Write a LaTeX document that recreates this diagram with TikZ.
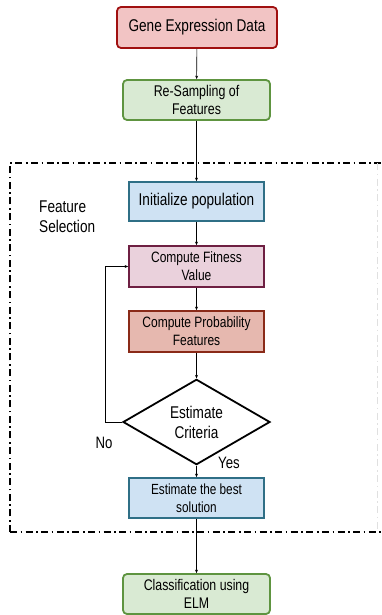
\documentclass[tikz,border=0pt]{standalone}
\usepackage{fontspec}
% Narrow sans face for all labels
\setmainfont[FakeStretch=0.8]{Liberation Sans}
\usetikzlibrary{arrows.meta,shapes.geometric}

\definecolor{redline}{HTML}{A01010}
\definecolor{redfill}{HTML}{F2C4C4}
\definecolor{greenline}{HTML}{5E9440}
\definecolor{greenfill}{HTML}{D9EAD3}
\definecolor{blueline}{HTML}{2F6F86}
\definecolor{bluefill}{HTML}{CFE2F3}
\definecolor{plumline}{HTML}{6E1F42}
\definecolor{plumfill}{HTML}{EAD1DC}
\definecolor{rustline}{HTML}{8A2A18}
\definecolor{rustfill}{HTML}{E6B8AF}

\tikzset{
  bigfont/.style={font=\fontsize{17}{20}\selectfont},
  smallfont/.style={font=\fontsize{15}{18}\selectfont},
  box/.style={draw, line width=1.8pt, align=center, inner sep=0pt, smallfont},
  roundbox/.style={box, rounded corners=4pt},
  flow/.style={line width=0.6pt, -{Stealth[length=3.5pt,width=3pt]}},
  frame/.style={line width=1.6pt, dash pattern=on 7pt off 3.5pt on 1.6pt off 3.5pt},
}

\begin{document}
\begin{tikzpicture}[x=1pt,y=-1pt]
\useasboundingbox (0,0) rectangle (381,615);

% Feature selection frame
\draw[frame] (10,532) -- (10,163) -- (381,163);
\draw[frame] (10,532) -- (381,532);
\draw[frame, black!12, line width=1pt] (377,163) -- (377,532);
\node[anchor=west, align=left, bigfont, inner sep=0pt]
  (fs) at (39,217) {Feature\\Selection};

% Process boxes
\node[roundbox, draw=redline, fill=redfill, minimum width=160pt, minimum height=41pt,
  bigfont] (gene) at (197,27.5) {Gene Expression Data};
\node[roundbox, draw=greenline, fill=greenfill, minimum width=147pt, minimum height=40pt,
  font=\fontsize{15.5}{18}\selectfont] (resamp) at (196.5,100) {Re-Sampling of\\Features};
\node[box, draw=blueline, fill=bluefill, minimum width=135pt, minimum height=39pt,
  bigfont] (init) at (196.5,201.5) {Initialize population};
\node[box, draw=plumline, fill=plumfill, minimum width=135pt, minimum height=41pt]
  (fit) at (196.5,266.5) {Compute Fitness\\Value};
\node[box, draw=rustline, fill=rustfill, minimum width=135pt, minimum height=41pt]
  (prob) at (196.5,331.5) {Compute Probability\\Features};
\node[diamond, draw, line width=1.8pt, fill=white, minimum width=147pt, minimum height=74pt,
  inner sep=0pt, align=center, bigfont] (crit) at (196.5,422)
  {Estimate\\Criteria};
\node[box, draw=blueline, fill=bluefill, minimum width=135pt, minimum height=40pt,
  font=\fontsize{14.7}{18}\selectfont] (best) at (196.5,498) {Estimate the best\\solution};
\node[roundbox, draw=greenline, fill=greenfill, minimum width=147pt, minimum height=40pt,
  font=\fontsize{15.4}{18}\selectfont] (elm) at (196.5,594) {Classification using\\ELM};

% Branch labels
\node[font=\fontsize{16.5}{18}\selectfont, inner sep=0pt] (no) at (104,443) {No};
\node[font=\fontsize{16.5}{18}\selectfont, inner sep=0pt] (yes) at (229,463) {Yes};

% Connectors
\draw[flow] (gene) -- (resamp);
\draw[flow] (resamp) -- (init);
\draw[flow] (init) -- (fit);
\draw[flow] (fit) -- (prob);
\draw[flow] (prob) -- (crit);
\draw[flow] (crit) -- (best);
\draw[flow] (best) -- (elm);
\coordinate (loop) at (105,422);
\draw[flow] (crit.west) -- (loop) |- (fit.west);
\end{tikzpicture}
\end{document}
